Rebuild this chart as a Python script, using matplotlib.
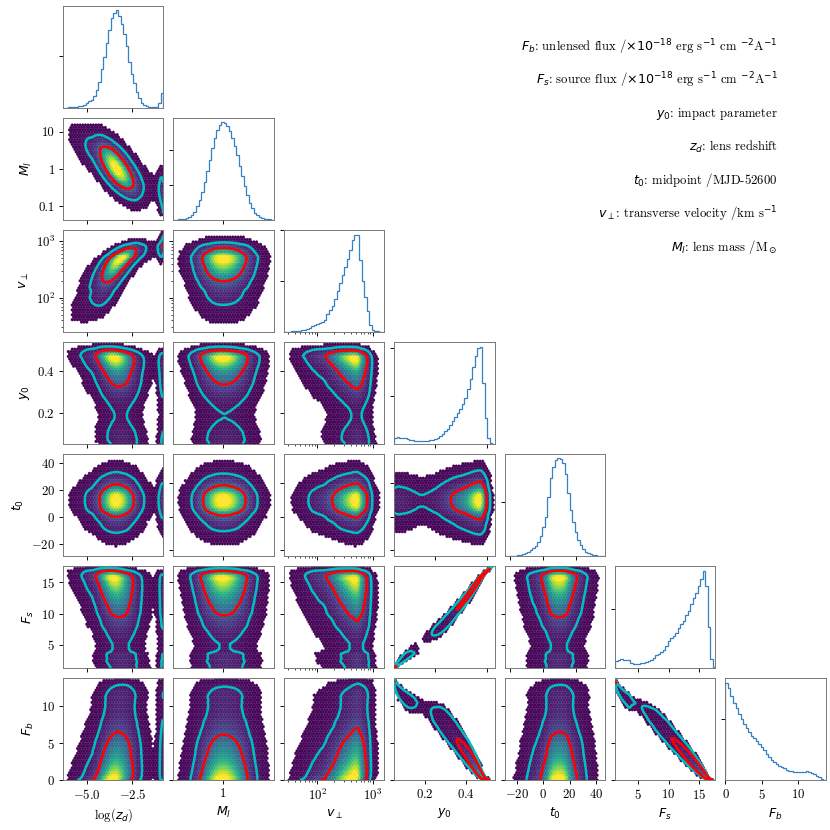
import math
import numpy as np
import matplotlib
matplotlib.use("Agg")
import matplotlib.pyplot as plt
from matplotlib.ticker import (FixedLocator, NullLocator, FixedFormatter,
                               NullFormatter, LogLocator, LogFormatterSciNotation,
                               ScalarFormatter)

plt.rcParams['font.family'] = 'serif'
plt.rcParams['font.serif'] = ['cmr10']
plt.rcParams['axes.formatter.use_mathtext'] = True
plt.rcParams['mathtext.fontset'] = 'dejavusans'
plt.rcParams['font.size'] = 11

# ---------------- data ----------------
var_labels = ['log($z_d$)', '$M_l$', r'$v_\perp$', '$y_0$', '$t_0$', '$F_s$', '$F_b$']
var_is_log = [False, True, True, False, False, False, False]
# axis ranges in plotted coordinate (log10 for log axes)
var_ranges = [(-6.33, -0.78), (-1.36, 1.38), (1.40, 3.20), (0.052, 0.539),
              (-29.2, 46.9), (1.32, 17.6), (0.0, 13.8)]

# marginal histograms (40 equal bins across each axis range, height as axis fraction)
hist_log_zd = [0, 0, 0.002, 0.004, 0.006, 0.008, 0.012, 0.018, 0.03, 0.045,
               0.06, 0.075, 0.11, 0.17, 0.25, 0.38, 0.50, 0.63, 0.76, 0.88,
               0.93, 0.96, 0.90, 0.82, 0.72, 0.60, 0.45, 0.33, 0.24, 0.15,
               0.09, 0.05, 0.03, 0.015, 0.01, 0.006, 0.006, 0.01, 0.05, 0.14]
hist_M_l = [0, 0, 0.003, 0.006, 0.01, 0.018, 0.03, 0.05, 0.08, 0.13,
            0.19, 0.27, 0.37, 0.48, 0.59, 0.70, 0.80, 0.88, 0.93, 0.955,
            0.95, 0.92, 0.87, 0.80, 0.72, 0.63, 0.53, 0.43, 0.33, 0.24,
            0.16, 0.11, 0.07, 0.045, 0.028, 0.016, 0.009, 0.004, 0.002, 0]
hist_v_perp = [0, 0, 0.001, 0.003, 0.005, 0.008, 0.011, 0.015, 0.02, 0.03,
               0.04, 0.055, 0.065, 0.08, 0.09, 0.10, 0.12, 0.17, 0.21, 0.25,
               0.32, 0.40, 0.48, 0.56, 0.64, 0.71, 0.80, 0.90, 0.95, 0.95,
               0.70, 0.50, 0.34, 0.20, 0.07, 0.02, 0.008, 0.003, 0.001, 0]
hist_y_0 = [0.055, 0.065, 0.062, 0.058, 0.055, 0.048, 0.042, 0.036, 0.032, 0.028,
            0.027, 0.027, 0.028, 0.031, 0.035, 0.042, 0.05, 0.062, 0.08, 0.10,
            0.125, 0.15, 0.185, 0.22, 0.26, 0.30, 0.34, 0.39, 0.45, 0.54,
            0.64, 0.75, 0.86, 0.94, 0.95, 0.60, 0.25, 0.06, 0.01, 0]
hist_t_0 = [0, 0, 0.001, 0.002, 0.003, 0.005, 0.008, 0.014, 0.025, 0.04,
            0.06, 0.08, 0.10, 0.14, 0.20, 0.28, 0.38, 0.58, 0.76, 0.87,
            0.94, 0.96, 0.95, 0.91, 0.80, 0.62, 0.45, 0.33, 0.23, 0.16,
            0.11, 0.065, 0.04, 0.025, 0.015, 0.008, 0.004, 0.002, 0.001, 0]
hist_F_s = [0.07, 0.075, 0.09, 0.08, 0.08, 0.08, 0.045, 0.04, 0.04, 0.04,
            0.045, 0.052, 0.06, 0.07, 0.08, 0.10, 0.125, 0.14, 0.16, 0.18,
            0.22, 0.26, 0.29, 0.31, 0.34, 0.39, 0.43, 0.46, 0.52, 0.56,
            0.63, 0.69, 0.74, 0.80, 0.87, 0.95, 0.80, 0.40, 0.09, 0.01]
hist_F_b = [0.95, 0.90, 0.82, 0.76, 0.71, 0.65, 0.60, 0.55, 0.51, 0.47,
            0.43, 0.41, 0.38, 0.35, 0.32, 0.29, 0.255, 0.225, 0.195, 0.18,
            0.155, 0.14, 0.13, 0.117, 0.10, 0.093, 0.088, 0.083, 0.08, 0.079,
            0.082, 0.079, 0.085, 0.08, 0.07, 0.058, 0.043, 0.03, 0.015, 0.003]
hists = [hist_log_zd, hist_M_l, hist_v_perp, hist_y_0, hist_t_0, hist_F_s, hist_F_b]

# pairwise rank correlations (row j, columns 0..j-1)
corr_rows = [
    [-0.72],
    [0.78, 0.0],
    [-0.25, -0.05, -0.20],
    [0.0, 0.0, 0.0, 0.0],
    [-0.25, -0.05, -0.20, 0.995, 0.0],
    [0.20, 0.03, 0.18, -0.978, 0.03, -0.986],
]

# tick positions
ticks_x_labeled = [[-5, -2.5], [1], None, [0.2, 0.4], [-20, 0, 20, 40], [5, 10, 15], [0, 5, 10]]
ticks_x_plain = [[-5, -2.5], [1], None, [0.25, 0.5], [-25, 0, 25], [5, 10, 15], [0, 5, 10]]
ticks_y_labeled = [None, [0.1, 1, 10], None, [0.2, 0.4], [-20, 0, 20, 40], [5, 10, 15], [0, 5, 10]]
ticks_y_plain = [None, [0.1, 1, 10], None, [0.2, 0.4], [-25, 0, 25], [5, 10, 15], [0, 5, 10]]
diag_yticks = [[0.51], [0.344, 0.685], [0.5, 0.995], [0.466, 0.94], [0.525], [0.577], [0.6]]

legend_lines = [
    r'$F_b$: unlensed flux /$\times10^{-18}$ erg s$^{-1}$ cm $^{-2}$A$^{-1}$',
    r'$F_s$: source flux /$\times10^{-18}$ erg s$^{-1}$ cm $^{-2}$A$^{-1}$',
    r'$y_0$: impact parameter',
    r'$z_d$: lens redshift',
    r'$t_0$: midpoint /MJD-52600',
    r'$v_\perp$: transverse velocity /km s$^{-1}$',
    r'$M_l$: lens mass /M$_\odot$',
]

# ---------------- helpers ----------------
NG = 240
zt = np.linspace(-8, 8, 8001)
Pt = 0.5 * (1 + np.array([math.erf(z / math.sqrt(2)) for z in zt]))


def marginal(k):
    lo, hi = var_ranges[k]
    vals = np.asarray(hists[k], float)
    edges = np.linspace(lo, hi, len(vals) + 1)
    centers = 0.5 * (edges[1:] + edges[:-1])
    u = lo + (np.arange(NG) + 0.5) * (hi - lo) / NG
    f = np.maximum(np.interp(u, centers, vals), 1e-6)
    F = (np.cumsum(f) - 0.5 * f) / f.sum()
    F = np.clip(F, 1e-7, 1 - 1e-7)
    z = np.interp(F, Pt, zt)
    return u, f / f.sum(), z


margs = [marginal(k) for k in range(7)]


def to_data(k, u):
    return 10 ** u if var_is_log[k] else u


def set_axis_ticks(axis, k, ticks, labeled):
    if var_is_log[k] and ticks is None:
        axis.set_major_locator(LogLocator(base=10))
        axis.set_minor_locator(LogLocator(base=10, subs=np.arange(2, 10)))
        axis.set_major_formatter(LogFormatterSciNotation() if labeled else NullFormatter())
        axis.set_minor_formatter(NullFormatter())
    else:
        axis.set_major_locator(FixedLocator(ticks))
        axis.set_minor_locator(NullLocator())
        if labeled:
            if var_is_log[k]:
                axis.set_major_formatter(FixedFormatter(['%g' % t for t in ticks]))
            else:
                axis.set_major_formatter(ScalarFormatter())
        else:
            axis.set_major_formatter(NullFormatter())
        axis.set_minor_formatter(NullFormatter())


fig, axes = plt.subplots(7, 7, figsize=(10, 10), dpi=83)
fig.subplots_adjust(left=0.0759, right=0.995, bottom=0.0602, top=0.9931,
                    wspace=0.1, hspace=0.1)

hist_color = '#3580c2'
for j in range(7):
    for i in range(7):
        ax = axes[j, i]
        if i > j:
            ax.axis('off')
            continue
        for s in ax.spines.values():
            s.set_color('0.45')
        xlo, xhi = var_ranges[i]
        if i == j:
            edges = np.linspace(xlo, xhi, len(hists[i]) + 1)
            if var_is_log[i]:
                ax.set_xscale('log')
            ax.stairs(hists[i], to_data(i, edges), color=hist_color, lw=1.1)
            ax.set_ylim(0, 1)
            ax.set_yticks(diag_yticks[i])
            ax.yaxis.set_major_formatter(NullFormatter())
        else:
            ylo, yhi = var_ranges[j]
            ux, fx, zx = margs[i]
            uy, fy, zy = margs[j]
            rho = corr_rows[j - 1][i]
            A, B = np.meshgrid(zx, zy)
            r2 = 1 - rho ** 2
            cop = np.exp(-(rho ** 2 * (A ** 2 + B ** 2) - 2 * rho * A * B) / (2 * r2)) / np.sqrt(r2)
            D = cop * fx[None, :] * fy[:, None]
            D = D / D.max()
            UX, UY = np.meshgrid(ux, uy)
            keep = D > 0.003
            ax.hexbin(to_data(i, UX[keep]), to_data(j, UY[keep]), C=D[keep],
                      reduce_C_function=np.mean, gridsize=38, mincnt=1,
                      cmap='viridis', vmin=0, vmax=0.9,
                      xscale='log' if var_is_log[i] else 'linear',
                      yscale='log' if var_is_log[j] else 'linear',
                      extent=(xlo, xhi, ylo, yhi), linewidths=0.2)
            flat = np.sort(D.ravel())[::-1]
            cum = np.cumsum(flat) / flat.sum()
            lev68 = flat[np.searchsorted(cum, 0.68)]
            lev95 = flat[np.searchsorted(cum, 0.95)]
            ax.contour(to_data(i, UX), to_data(j, UY), D, levels=[lev95, lev68],
                       colors=['c', 'red'], linewidths=2.2, zorder=3)
            ax.set_ylim(to_data(j, ylo), to_data(j, yhi))
            set_axis_ticks(ax.yaxis, j,
                           ticks_y_labeled[j] if i == 0 else ticks_y_plain[j], i == 0)
            if i == 0:
                ax.set_ylabel(var_labels[j])
        ax.set_xlim(to_data(i, xlo), to_data(i, xhi))
        set_axis_ticks(ax.xaxis, i,
                       ticks_x_labeled[i] if j == 6 else ticks_x_plain[i], j == 6)
        if j == 6:
            ax.set_xlabel(var_labels[i])

for n, line in enumerate(legend_lines):
    fig.text(0.937, 1 - (46.7 + 33.4 * n) / 830, line, ha='right', va='center',
             fontsize=11)

fig.savefig('out.png', dpi=83)
